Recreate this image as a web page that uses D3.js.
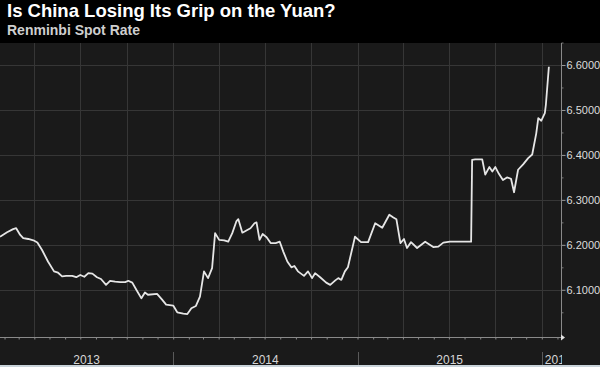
<!DOCTYPE html>
<html>
<head>
<meta charset="utf-8">
<script src="https://cdn.jsdelivr.net/npm/d3@7"></script>
<style>
  html, body { margin: 0; padding: 0; background: #000; }
  svg { display: block; }
</style>
</head>
<body>
<svg id="chart" width="600" height="367"></svg>
<script>
// ---- data ----
const title = "Is China Losing Its Grip on the Yuan?";
const subtitle = "Renminbi Spot Rate";

const dates = [
  "2013-01-23","2013-02-06","2013-02-18","2013-02-24","2013-03-04","2013-03-10","2013-03-20","2013-03-30",
  "2013-04-07","2013-04-16","2013-04-28","2013-05-10","2013-05-18","2013-05-26","2013-06-03","2013-06-15",
  "2013-06-23","2013-07-01","2013-07-09","2013-07-17","2013-07-25","2013-08-03","2013-08-11","2013-08-21",
  "2013-08-29","2013-09-08","2013-09-18","2013-09-28","2013-10-04","2013-10-12","2013-10-20","2013-10-30",
  "2013-11-06","2013-11-12","2013-11-30","2013-12-10","2013-12-18","2014-01-01","2014-01-09","2014-01-21",
  "2014-01-29","2014-02-06","2014-02-15","2014-02-23","2014-03-03","2014-03-11","2014-03-19","2014-03-25",
  "2014-04-02","2014-04-12","2014-04-20","2014-04-28","2014-05-06","2014-05-10","2014-05-18","2014-05-26",
  "2014-06-03","2014-06-11","2014-06-15","2014-06-21","2014-06-27","2014-07-05","2014-07-13","2014-07-23",
  "2014-07-31","2014-08-07","2014-08-15","2014-08-23","2014-08-29","2014-09-05","2014-09-17","2014-09-25",
  "2014-10-03","2014-10-09","2014-10-19","2014-10-31","2014-11-08","2014-11-18","2014-11-24","2014-11-30",
  "2014-12-07","2014-12-13","2014-12-27","2015-01-08","2015-01-22","2015-02-05","2015-02-19","2015-03-05",
  "2015-03-13","2015-03-19","2015-03-27","2015-04-03","2015-04-09","2015-04-17","2015-04-29","2015-05-15",
  "2015-05-31","2015-06-10","2015-06-20","2015-07-03","2015-08-14","2015-08-16","2015-08-22","2015-09-05",
  "2015-09-11","2015-09-19","2015-09-25","2015-10-01","2015-10-08","2015-10-16","2015-10-24","2015-11-01",
  "2015-11-07","2015-11-15","2015-11-25","2015-12-05","2015-12-13","2015-12-21","2015-12-25","2015-12-31",
  "2016-01-07","2016-01-09","2016-01-15"
];
const rates = [
  6.218,6.228,6.235,6.237,6.222,6.215,6.213,6.210,
  6.205,6.189,6.163,6.141,6.138,6.130,6.131,6.131,
  6.128,6.133,6.129,6.137,6.136,6.128,6.124,6.111,
  6.120,6.118,6.117,6.117,6.120,6.116,6.100,6.081,
  6.094,6.089,6.091,6.078,6.067,6.065,6.050,6.047,
  6.046,6.059,6.064,6.085,6.141,6.126,6.148,6.226,
  6.211,6.210,6.207,6.226,6.252,6.257,6.227,6.232,
  6.237,6.248,6.250,6.211,6.224,6.217,6.204,6.204,
  6.207,6.185,6.163,6.150,6.153,6.141,6.131,6.141,
  6.126,6.137,6.128,6.116,6.111,6.121,6.126,6.122,
  6.141,6.150,6.218,6.206,6.206,6.248,6.238,6.267,
  6.261,6.257,6.204,6.213,6.193,6.206,6.193,6.207,
  6.195,6.196,6.205,6.207,6.207,6.389,6.390,6.390,
  6.356,6.373,6.363,6.373,6.358,6.344,6.350,6.347,
  6.317,6.367,6.379,6.393,6.401,6.448,6.482,6.476,
  6.493,6.511,6.596
];
const yTickValues = [6.1, 6.2, 6.3, 6.4, 6.5, 6.6];
const yMinorValues = [6.05, 6.15, 6.25, 6.35, 6.45, 6.55, 6.65];
const yearLabels = ["2013", "2014", "2015", "2016"];
const xStart = "2013-01-23", xEnd = "2016-02-08";

// ---- layout ----
const W = 600, H = 367;
const plotLeft = 0, plotRight = 561, plotTop = 43, plotBottom = 337;
const sans = "'Liberation Sans', Arial, sans-serif";

const svg = d3.select("#chart");
const parse = d3.utcParse("%Y-%m-%d");
const data = dates.map((d, i) => ({ date: parse(d), value: rates[i] }));

const x = d3.scaleUtc().domain([parse(xStart), parse(xEnd)]).range([plotLeft, plotRight]);
const y = d3.scaleLinear().domain([5.995, 6.6467]).range([plotBottom, 44]);

// backgrounds
svg.append("rect").attr("x", 0).attr("y", 0).attr("width", W).attr("height", H).attr("fill", "#000");
svg.append("rect").attr("x", 0).attr("y", plotTop).attr("width", W).attr("height", 322).attr("fill", "#1a1a1a");
svg.append("rect").attr("x", 0).attr("y", 365).attr("width", W).attr("height", 2).attr("fill", "#c9d3da");

// title
svg.append("text").attr("x", 7).attr("y", 17)
  .attr("font-family", sans).attr("font-weight", "bold")
  .attr("font-size", 18.5).attr("fill", "#ffffff").text(title);
svg.append("text").attr("x", 7).attr("y", 35)
  .attr("font-family", sans).attr("font-weight", "bold")
  .attr("font-size", 14).attr("fill", "#cfcfcf").text(subtitle);

// grid
const gridColor = "#363636";
const quarters = d3.utcMonth.every(3).range(parse(xStart), parse(xEnd));
svg.append("g").selectAll("line").data(quarters).join("line")
  .attr("x1", d => Math.round(x(d)) + 0.5).attr("x2", d => Math.round(x(d)) + 0.5)
  .attr("y1", plotTop).attr("y2", plotBottom)
  .attr("stroke", gridColor).attr("stroke-width", 1);
svg.append("g").selectAll("line").data(yTickValues).join("line")
  .attr("x1", plotLeft).attr("x2", plotRight)
  .attr("y1", d => Math.round(y(d)) + 0.5).attr("y2", d => Math.round(y(d)) + 0.5)
  .attr("stroke", gridColor).attr("stroke-width", 1);

// line
svg.append("defs").append("clipPath").attr("id", "clip")
  .append("rect").attr("x", plotLeft).attr("y", plotTop).attr("width", plotRight - plotLeft).attr("height", plotBottom - plotTop);
const line = d3.line().x(d => x(d.date)).y(d => y(d.value));
svg.append("path").datum(data).attr("clip-path", "url(#clip)")
  .attr("d", line).attr("fill", "none").attr("stroke", "#e6e6e6")
  .attr("stroke-width", 1.8).attr("stroke-linejoin", "round");

// right axis
const yAxis = d3.axisRight(y).tickValues(yTickValues).tickFormat(d3.format(".4f")).tickSize(4).tickPadding(1);
const ga = svg.append("g").attr("transform", `translate(${plotRight + 0.5},0)`).call(yAxis);
ga.select(".domain").remove();
ga.selectAll(".tick line").attr("stroke", "#9a9a9a");
ga.selectAll(".tick text").attr("fill", "#dcdcdc")
  .attr("font-family", sans).attr("font-size", 11);
const yMinor = d3.axisRight(y).tickValues(yMinorValues).tickFormat("").tickSize(2);
const gm = svg.append("g").attr("transform", `translate(${plotRight + 0.5},0)`).call(yMinor);
gm.select(".domain").remove();
gm.selectAll(".tick line").attr("stroke", "#777");
svg.append("line").attr("x1", plotRight + 0.5).attr("x2", plotRight + 0.5)
  .attr("y1", plotTop).attr("y2", plotBottom + 1).attr("stroke", "#8a8a8a");

// bottom axis
const xAxis = d3.axisBottom(x).ticks(d3.utcMonth.every(1)).tickFormat("").tickSize(2);
const gx = svg.append("g").attr("transform", `translate(0,${plotBottom + 0.5})`).call(xAxis);
gx.select(".domain").attr("stroke", "#8a8a8a").attr("d", `M${plotLeft},0H${plotRight}`);
gx.selectAll(".tick line").attr("stroke", "#8a8a8a");
// end arrow
svg.append("path").attr("d", d3.line()([[plotRight, plotBottom - 2.5], [plotRight + 4, plotBottom + 0.5], [plotRight, plotBottom + 3.5]]))
  .attr("fill", "#e0e0e0");

// year separators & labels
const yearStarts = yearLabels.map(s => parse(s + "-01-01"));
svg.append("g").selectAll("line").data(yearStarts.filter(d => x(d) > 0 && x(d) < plotRight)).join("line")
  .attr("x1", d => Math.round(x(d)) + 0.5).attr("x2", d => Math.round(x(d)) + 0.5)
  .attr("y1", 352).attr("y2", 365).attr("stroke", "#5a5a5a");

svg.append("defs").append("clipPath").attr("id", "clipx")
  .append("rect").attr("x", 0).attr("y", 338).attr("width", plotRight + 1).attr("height", 29);
const spanOf = i => {
  const s = Math.max(x(yearStarts[i]), plotLeft);
  const e = Math.min(x(d3.utcYear.offset(yearStarts[i], 1)), plotRight);
  return [s, e];
};
svg.append("g").attr("clip-path", "url(#clipx)").selectAll("text").data(yearLabels).join("text")
  .attr("x", (d, i) => { const [s, e] = spanOf(i); return (e - s) < 40 ? s + 3 : (s + e) / 2; })
  .attr("text-anchor", (d, i) => { const [s, e] = spanOf(i); return (e - s) < 40 ? "start" : "middle"; })
  .attr("y", 364)
  .attr("font-family", sans).attr("font-size", 12)
  .attr("fill", "#d6d6d6").text(d => d);
</script>
</body>
</html>
